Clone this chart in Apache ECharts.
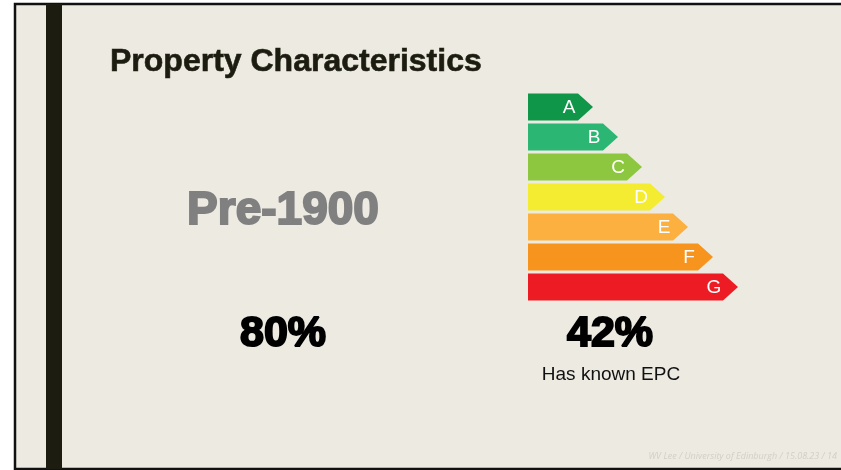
<!DOCTYPE html>
<html>
<head>
<meta charset="utf-8">
<script src="https://cdn.jsdelivr.net/npm/echarts@6/dist/echarts.min.js"></script>
<style>
  html, body { margin: 0; padding: 0; background: #ffffff; }
  #main { width: 841px; height: 470px; }
</style>
</head>
<body>
<div id="main"></div>
<script>
// EPC bands, top to bottom
var bands = ['A', 'B', 'C', 'D', 'E', 'F', 'G'];
// arrow length per band (incl. tip)
var bandLength = [65, 90, 114, 137, 160, 185, 210];
var bandColors = ['#0f9648', '#2bb673', '#8dc63f', '#f4ec31', '#fbb040', '#f7941d', '#ed1c24'];

// headline figures
var slideTitle = 'Property Characteristics';
var periodLabel = 'Pre-1900';
var periodShare = '80%';
var epcShare = '42%';
var epcLabel = 'Has known EPC';
var footer = 'WV Lee / University of Edinburgh / 15.08.23 / 14';

var chart = echarts.init(document.getElementById('main'));

var tip = 15;
var heavy = '"Liberation Sans", Arial, sans-serif';

chart.setOption({
  backgroundColor: '#ffffff',
  animation: false,
  grid: { left: 528, top: 92, width: 210, height: 210 },
  xAxis: { type: 'value', min: 0, max: 210, show: false },
  yAxis: { type: 'category', data: bands, inverse: true, show: false },
  graphic: [
    // slide panel
    { type: 'rect', shape: { x: 15, y: 4, width: 830, height: 465 },
      style: { fill: '#edeae2', stroke: '#111', lineWidth: 2.5 }, z: -10 },
    { type: 'rect', shape: { x: 46, y: 4, width: 16, height: 465 },
      style: { fill: '#1c1d10' }, z: -5 },
    { type: 'text', x: 110, y: 62,
      style: { text: slideTitle, fill: '#1c1d10', verticalAlign: 'middle',
        stroke: '#1c1d10', lineWidth: 0.6,
        font: 'bold 32px ' + heavy } },
    { type: 'text', x: 283, y: 211,
      style: { text: periodLabel, fill: '#808080', align: 'center', verticalAlign: 'middle',
        stroke: '#808080', lineWidth: 2,
        font: 'bold 46px ' + heavy } },
    { type: 'text', x: 283, y: 334,
      style: { text: periodShare, fill: '#000', align: 'center', verticalAlign: 'middle',
        stroke: '#000', lineWidth: 2,
        font: 'bold 43px ' + heavy } },
    { type: 'text', x: 610, y: 334,
      style: { text: epcShare, fill: '#000', align: 'center', verticalAlign: 'middle',
        stroke: '#000', lineWidth: 2,
        font: 'bold 43px ' + heavy } },
    { type: 'text', x: 611, y: 375,
      style: { text: epcLabel, fill: '#111', align: 'center', verticalAlign: 'middle',
        font: '19px ' + heavy } },
    { type: 'text', x: 837, y: 456,
      style: { text: footer, fill: '#d2cfc7', align: 'right', verticalAlign: 'middle',
        font: 'italic 9px "Open Sans", "DejaVu Sans", sans-serif' } }
  ],
  series: [{
    type: 'custom',
    data: bandLength.map(function (v, i) { return [v, i]; }),
    encode: { x: 0, y: 1 },
    renderItem: function (params, api) {
      var end = api.coord([api.value(0), api.value(1)]);
      var start = api.coord([0, api.value(1)]);
      var h = 27;
      var x0 = start[0], x1 = end[0], y = end[1];
      var idx = params.dataIndex;
      return {
        type: 'group',
        children: [{
          type: 'polygon',
          shape: { points: [
            [x0, y - h / 2], [x1 - tip, y - h / 2], [x1, y],
            [x1 - tip, y + h / 2], [x0, y + h / 2]
          ] },
          style: { fill: bandColors[idx] }
        }, {
          type: 'text',
          x: x1 - tip - 9, y: y + 1,
          style: { text: bands[idx], fill: '#ffffff', align: 'center', verticalAlign: 'middle',
            font: '19px ' + heavy }
        }]
      };
    }
  }]
});
</script>
</body>
</html>
